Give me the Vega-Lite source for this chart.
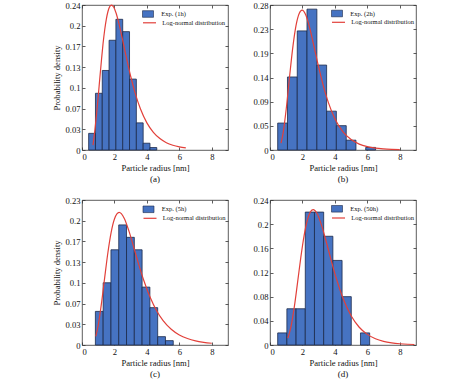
{
  "$schema": "https://vega.github.io/schema/vega-lite/v6.json",
  "background": "white",
  "padding": {"left": 52, "top": 0, "right": 4, "bottom": 4},
  "config": {
    "view": {"stroke": "#333333", "strokeWidth": 0.8},
    "font": "Liberation Serif",
    "axis": {
      "domain": false, "grid": false, "tickSize": -3, "tickColor": "#333333", "tickWidth": 0.8,
      "labelPadding": 5, "labelFont": "Liberation Serif", "labelFontSize": 8.6, "labelColor": "#111111",
      "titleFont": "Liberation Serif", "titleFontSize": 8.6, "titleFontWeight": "normal", "titleColor": "#111111"
    },
    "legend": {
      "orient": "none", "padding": 0, "title": null,
      "labelFont": "Liberation Serif", "labelFontSize": 6.5, "labelColor": "#111111", "labelLimit": 0
    },
    "title": {"font": "Liberation Serif", "fontSize": 9, "fontWeight": "normal", "color": "#111111", "orient": "bottom", "offset": 3}
  },
  "datasets": {
    "a_bars": [
      {"x0": 0.41, "x1": 0.83, "p": 0.027}, {"x0": 0.83, "x1": 1.25, "p": 0.092}, {"x0": 1.25, "x1": 1.67, "p": 0.129},
      {"x0": 1.67, "x1": 2.09, "p": 0.178}, {"x0": 2.09, "x1": 2.51, "p": 0.212}, {"x0": 2.51, "x1": 2.93, "p": 0.192},
      {"x0": 2.93, "x1": 3.35, "p": 0.115}, {"x0": 3.35, "x1": 3.77, "p": 0.044}, {"x0": 3.77, "x1": 4.19, "p": 0.011},
      {"x0": 4.19, "x1": 4.61, "p": 0.004}
    ],
    "a_curve": [
      {"r": 0.68, "f": 0.008}, {"r": 0.8, "f": 0.034}, {"r": 0.9, "f": 0.059}, {"r": 1.0, "f": 0.087}, {"r": 1.1, "f": 0.117}, {"r": 1.2, "f": 0.146},
      {"r": 1.3, "f": 0.1731}, {"r": 1.4, "f": 0.1951}, {"r": 1.5, "f": 0.2124}, {"r": 1.6, "f": 0.2247}, {"r": 1.7, "f": 0.2321},
      {"r": 1.82, "f": 0.235}, {"r": 1.95, "f": 0.232}, {"r": 2.1, "f": 0.2223}, {"r": 2.3, "f": 0.2026}, {"r": 2.5, "f": 0.179},
      {"r": 2.75, "f": 0.1483}, {"r": 3.0, "f": 0.1196}, {"r": 3.3, "f": 0.0902}, {"r": 3.6, "f": 0.0668}, {"r": 4.0, "f": 0.044},
      {"r": 4.4, "f": 0.0286}, {"r": 4.8, "f": 0.0185}, {"r": 5.2, "f": 0.0119}, {"r": 5.6, "f": 0.0077}, {"r": 6.0, "f": 0.005},
      {"r": 6.4, "f": 0.0033}
    ],
    "b_bars": [
      {"x0": 0.474, "x1": 1.077, "p": 0.052}, {"x0": 1.077, "x1": 1.68, "p": 0.141}, {"x0": 1.68, "x1": 2.28, "p": 0.23},
      {"x0": 2.28, "x1": 2.89, "p": 0.272}, {"x0": 2.89, "x1": 3.49, "p": 0.164}, {"x0": 3.49, "x1": 4.09, "p": 0.075},
      {"x0": 4.09, "x1": 4.7, "p": 0.047}, {"x0": 4.7, "x1": 5.3, "p": 0.019}, {"x0": 5.9, "x1": 6.51, "p": 0.005}
    ],
    "b_curve": [
      {"r": 0.68, "f": 0.0134}, {"r": 0.8, "f": 0.0311}, {"r": 1.0, "f": 0.0791}, {"r": 1.2, "f": 0.1396}, {"r": 1.4, "f": 0.1968},
      {"r": 1.6, "f": 0.2396}, {"r": 1.8, "f": 0.2636}, {"r": 1.98, "f": 0.27}, {"r": 2.2, "f": 0.261}, {"r": 2.4, "f": 0.2414},
      {"r": 2.7, "f": 0.2017}, {"r": 3.0, "f": 0.16}, {"r": 3.3, "f": 0.1225}, {"r": 3.6, "f": 0.0914}, {"r": 4.0, "f": 0.0603},
      {"r": 4.5, "f": 0.035}, {"r": 5.0, "f": 0.0201}, {"r": 5.5, "f": 0.0114}, {"r": 6.0, "f": 0.0065}, {"r": 6.5, "f": 0.0037},
      {"r": 7.0, "f": 0.0022}, {"r": 7.5, "f": 0.0013}, {"r": 8.0, "f": 0.0007}
    ],
    "c_bars": [
      {"x0": 0.825, "x1": 1.305, "p": 0.054}, {"x0": 1.305, "x1": 1.785, "p": 0.1}, {"x0": 1.785, "x1": 2.265, "p": 0.153},
      {"x0": 2.265, "x1": 2.745, "p": 0.193}, {"x0": 2.745, "x1": 3.225, "p": 0.173}, {"x0": 3.225, "x1": 3.705, "p": 0.153},
      {"x0": 3.705, "x1": 4.185, "p": 0.093}, {"x0": 4.185, "x1": 4.665, "p": 0.06}, {"x0": 4.665, "x1": 5.145, "p": 0.0134},
      {"x0": 5.145, "x1": 5.625, "p": 0.007}
    ],
    "c_curve": [
      {"r": 0.85, "f": 0.0139}, {"r": 1.0, "f": 0.0316}, {"r": 1.2, "f": 0.0668}, {"r": 1.4, "f": 0.1087}, {"r": 1.6, "f": 0.149},
      {"r": 1.8, "f": 0.1813}, {"r": 2.0, "f": 0.2024}, {"r": 2.29, "f": 0.213}, {"r": 2.6, "f": 0.2037}, {"r": 2.9, "f": 0.1825},
      {"r": 3.2, "f": 0.1561}, {"r": 3.5, "f": 0.1292}, {"r": 3.8, "f": 0.1045}, {"r": 4.2, "f": 0.0767}, {"r": 4.6, "f": 0.0551},
      {"r": 5.0, "f": 0.0392}, {"r": 5.5, "f": 0.0253}, {"r": 6.0, "f": 0.0162}, {"r": 6.5, "f": 0.0104}, {"r": 7.0, "f": 0.0066},
      {"r": 7.5, "f": 0.0043}, {"r": 8.0, "f": 0.0028}
    ],
    "d_bars": [
      {"x0": 0.474, "x1": 1.041, "p": 0.02}, {"x0": 1.041, "x1": 1.608, "p": 0.06}, {"x0": 1.608, "x1": 2.175, "p": 0.06},
      {"x0": 2.175, "x1": 2.742, "p": 0.22}, {"x0": 2.742, "x1": 3.309, "p": 0.22}, {"x0": 3.309, "x1": 3.876, "p": 0.18},
      {"x0": 3.876, "x1": 4.443, "p": 0.14}, {"x0": 4.443, "x1": 5.01, "p": 0.08}, {"x0": 5.577, "x1": 6.144, "p": 0.02}
    ],
    "d_curve": [
      {"r": 1.1, "f": 0.0112}, {"r": 1.3, "f": 0.0312}, {"r": 1.5, "f": 0.0634}, {"r": 1.7, "f": 0.1036}, {"r": 1.9, "f": 0.145},
      {"r": 2.1, "f": 0.1807}, {"r": 2.3, "f": 0.2065}, {"r": 2.5, "f": 0.2207}, {"r": 2.66, "f": 0.224}, {"r": 2.9, "f": 0.2177},
      {"r": 3.2, "f": 0.1964}, {"r": 3.5, "f": 0.1676}, {"r": 3.8, "f": 0.1373}, {"r": 4.1, "f": 0.109}, {"r": 4.5, "f": 0.0774},
      {"r": 5.0, "f": 0.0484}, {"r": 5.5, "f": 0.0294}, {"r": 6.0, "f": 0.0176}, {"r": 6.5, "f": 0.0104}, {"r": 7.0, "f": 0.0061},
      {"r": 7.5, "f": 0.0036}, {"r": 8.0, "f": 0.0021}, {"r": 8.5, "f": 0.0012}, {"r": 8.9, "f": 0.0008}
    ]
  },
  "columns": 2,
  "bounds": "flush",
  "spacing": {"row": 50, "column": 42},
  "resolve": {"scale": {"x": "independent", "y": "independent", "fill": "independent", "stroke": "independent"}},
  "concat": [
    {
      "width": 146, "height": 145,
      "title": "(a)",
      "resolve": {"axis": {"x": "independent", "y": "independent"}},
      "layer": [
        {
          "data": {"name": "a_bars"},
          "mark": {"type": "rect", "stroke": "#1c2a4a", "strokeWidth": 0.8, "opacity": 1},
          "encoding": {
            "x": {"field": "x0", "type": "quantitative", "scale": {"domain": [0, 9], "nice": false}, "axis": {"values": [0, 2, 4, 6, 8], "title": "Particle radius [nm]", "titlePadding": 3}},
            "x2": {"field": "x1"},
            "y": {"field": "p", "type": "quantitative", "scale": {"domain": [0, 0.2352], "nice": false}, "axis": {"values": [0, 0.0336, 0.0672, 0.1008, 0.1344, 0.168, 0.2016, 0.2352], "format": ".2~f", "title": "Probability density", "titlePadding": 3}},
            "y2": {"datum": 0},
            "fill": {"datum": "Exp. (1h)", "scale": {"domain": ["Exp. (1h)"], "range": ["#4673c2"]},
              "legend": {"legendX": 60, "legendY": 3, "symbolType": "M-1,-0.6H1V0.6H-1Z", "symbolSize": 121, "symbolStrokeColor": "#1c2a4a", "symbolStrokeWidth": 0.6, "labelOffset": 7.3}}
          }
        },
        {
          "data": {"name": "a_curve"},
          "mark": {"type": "line", "strokeWidth": 1.2, "interpolate": "monotone"},
          "encoding": {
            "x": {"field": "r", "type": "quantitative", "axis": {"orient": "top", "values": [0, 2, 4, 6, 8], "labels": false, "title": null}},
            "y": {"field": "f", "type": "quantitative", "axis": {"orient": "right", "values": [0, 0.0336, 0.0672, 0.1008, 0.1344, 0.168, 0.2016, 0.2352], "labels": false, "title": null}},
            "stroke": {"datum": "Log-normal distribution", "scale": {"domain": ["Log-normal distribution"], "range": ["#e2403a"]},
              "legend": {"legendX": 60, "legendY": 10.3, "symbolType": "stroke", "symbolSize": 169, "symbolStrokeWidth": 1.2, "labelOffset": 5.3}}
          }
        }
      ]
    },
    {
      "width": 146, "height": 145,
      "title": "(b)",
      "resolve": {"axis": {"x": "independent", "y": "independent"}},
      "layer": [
        {
          "data": {"name": "b_bars"},
          "mark": {"type": "rect", "stroke": "#1c2a4a", "strokeWidth": 0.8, "opacity": 1},
          "encoding": {
            "x": {"field": "x0", "type": "quantitative", "scale": {"domain": [0, 9], "nice": false}, "axis": {"values": [0, 2, 4, 6, 8], "title": "Particle radius [nm]", "titlePadding": 3}},
            "x2": {"field": "x1"},
            "y": {"field": "p", "type": "quantitative", "scale": {"domain": [0, 0.28], "nice": false}, "axis": {"values": [0, 0.046667, 0.093333, 0.14, 0.186667, 0.233333, 0.28], "format": ".2~f", "title": null}},
            "y2": {"datum": 0},
            "fill": {"datum": "Exp. (2h)", "scale": {"domain": ["Exp. (2h)"], "range": ["#4673c2"]},
              "legend": {"legendX": 61, "legendY": 2.5, "symbolType": "M-1,-0.6H1V0.6H-1Z", "symbolSize": 121, "symbolStrokeColor": "#1c2a4a", "symbolStrokeWidth": 0.6, "labelOffset": 7.3}}
          }
        },
        {
          "data": {"name": "b_curve"},
          "mark": {"type": "line", "strokeWidth": 1.2, "interpolate": "monotone"},
          "encoding": {
            "x": {"field": "r", "type": "quantitative", "axis": {"orient": "top", "values": [0, 2, 4, 6, 8], "labels": false, "title": null}},
            "y": {"field": "f", "type": "quantitative", "axis": {"orient": "right", "values": [0, 0.046667, 0.093333, 0.14, 0.186667, 0.233333, 0.28], "labels": false, "title": null}},
            "stroke": {"datum": "Log-normal distribution", "scale": {"domain": ["Log-normal distribution"], "range": ["#e2403a"]},
              "legend": {"legendX": 61, "legendY": 9.8, "symbolType": "stroke", "symbolSize": 169, "symbolStrokeWidth": 1.2, "labelOffset": 5.3}}
          }
        }
      ]
    },
    {
      "width": 146, "height": 145,
      "title": "(c)",
      "resolve": {"axis": {"x": "independent", "y": "independent"}},
      "layer": [
        {
          "data": {"name": "c_bars"},
          "mark": {"type": "rect", "stroke": "#1c2a4a", "strokeWidth": 0.8, "opacity": 1},
          "encoding": {
            "x": {"field": "x0", "type": "quantitative", "scale": {"domain": [0, 9], "nice": false}, "axis": {"values": [0, 2, 4, 6, 8], "title": "Particle radius [nm]", "titlePadding": 3}},
            "x2": {"field": "x1"},
            "y": {"field": "p", "type": "quantitative", "scale": {"domain": [0, 0.233], "nice": false}, "axis": {"values": [0, 0.033286, 0.066571, 0.099857, 0.133143, 0.166429, 0.199714, 0.233], "format": ".2~f", "title": "Probability density", "titlePadding": 3}},
            "y2": {"datum": 0},
            "fill": {"datum": "Exp. (5h)", "scale": {"domain": ["Exp. (5h)"], "range": ["#4673c2"]},
              "legend": {"legendX": 60.5, "legendY": 3.3, "symbolType": "M-1,-0.6H1V0.6H-1Z", "symbolSize": 121, "symbolStrokeColor": "#1c2a4a", "symbolStrokeWidth": 0.6, "labelOffset": 7.3}}
          }
        },
        {
          "data": {"name": "c_curve"},
          "mark": {"type": "line", "strokeWidth": 1.2, "interpolate": "monotone"},
          "encoding": {
            "x": {"field": "r", "type": "quantitative", "axis": {"orient": "top", "values": [0, 2, 4, 6, 8], "labels": false, "title": null}},
            "y": {"field": "f", "type": "quantitative", "axis": {"orient": "right", "values": [0, 0.033286, 0.066571, 0.099857, 0.133143, 0.166429, 0.199714, 0.233], "labels": false, "title": null}},
            "stroke": {"datum": "Log-normal distribution", "scale": {"domain": ["Log-normal distribution"], "range": ["#e2403a"]},
              "legend": {"legendX": 60.5, "legendY": 10.8, "symbolType": "stroke", "symbolSize": 169, "symbolStrokeWidth": 1.2, "labelOffset": 5.3}}
          }
        }
      ]
    },
    {
      "width": 146, "height": 145,
      "title": "(d)",
      "resolve": {"axis": {"x": "independent", "y": "independent"}},
      "layer": [
        {
          "data": {"name": "d_bars"},
          "mark": {"type": "rect", "stroke": "#1c2a4a", "strokeWidth": 0.8, "opacity": 1},
          "encoding": {
            "x": {"field": "x0", "type": "quantitative", "scale": {"domain": [0, 9], "nice": false}, "axis": {"values": [0, 2, 4, 6, 8], "title": "Particle radius [nm]", "titlePadding": 3}},
            "x2": {"field": "x1"},
            "y": {"field": "p", "type": "quantitative", "scale": {"domain": [0, 0.24], "nice": false}, "axis": {"values": [0, 0.04, 0.08, 0.12, 0.16, 0.2, 0.24], "format": ".2~f", "title": null}},
            "y2": {"datum": 0},
            "fill": {"datum": "Exp. (50h)", "scale": {"domain": ["Exp. (50h)"], "range": ["#4673c2"]},
              "legend": {"legendX": 61, "legendY": 2.8, "symbolType": "M-1,-0.6H1V0.6H-1Z", "symbolSize": 121, "symbolStrokeColor": "#1c2a4a", "symbolStrokeWidth": 0.6, "labelOffset": 7.3}}
          }
        },
        {
          "data": {"name": "d_curve"},
          "mark": {"type": "line", "strokeWidth": 1.2, "interpolate": "monotone"},
          "encoding": {
            "x": {"field": "r", "type": "quantitative", "axis": {"orient": "top", "values": [0, 2, 4, 6, 8], "labels": false, "title": null}},
            "y": {"field": "f", "type": "quantitative", "axis": {"orient": "right", "values": [0, 0.04, 0.08, 0.12, 0.16, 0.2, 0.24], "labels": false, "title": null}},
            "stroke": {"datum": "Log-normal distribution", "scale": {"domain": ["Log-normal distribution"], "range": ["#e2403a"]},
              "legend": {"legendX": 61, "legendY": 10.5, "symbolType": "stroke", "symbolSize": 169, "symbolStrokeWidth": 1.2, "labelOffset": 5.3}}
          }
        }
      ]
    }
  ]
}
